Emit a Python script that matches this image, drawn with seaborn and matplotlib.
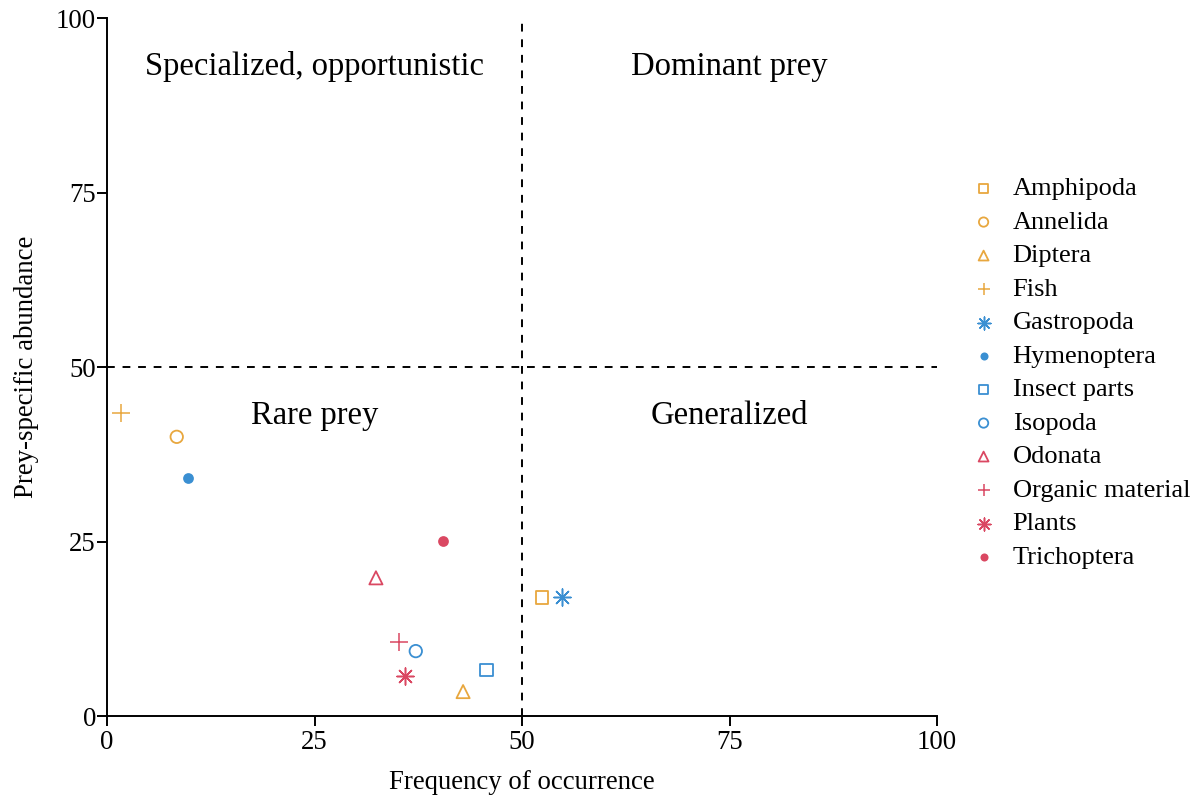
import matplotlib
matplotlib.use("Agg")
import matplotlib.pyplot as plt
import seaborn as sns
import pandas as pd

# Prey categories with frequency of occurrence (%) and prey-specific abundance (%)
prey = ["Amphipoda", "Annelida", "Diptera", "Fish", "Gastropoda", "Hymenoptera",
        "Insect parts", "Isopoda", "Odonata", "Organic material", "Plants", "Trichoptera"]
frequency = [52.4, 8.4, 42.9, 1.7, 54.8, 9.8, 45.7, 37.2, 32.4, 35.2, 35.9, 40.5]
abundance = [17.0, 40.0, 3.5, 43.4, 17.1, 34.1, 6.6, 9.3, 19.8, 10.6, 5.7, 25.1]

ORANGE = "#E8A73E"
BLUE = "#3A8FD2"
RED = "#DA4862"
colors = [ORANGE, ORANGE, ORANGE, ORANGE, BLUE, BLUE, BLUE, BLUE, RED, RED, RED, RED]
markers = ["s", "o", "^", "+", (8, 2, 0), "o", "s", "o", "^", "+", (8, 2, 0), "o"]
filled = [False, False, False, False, False, True, False, False, False, False, False, True]

df = pd.DataFrame({"prey": prey, "freq": frequency, "abund": abundance})

sns.set_theme(style="ticks")
plt.rcParams["font.family"] = ["Liberation Serif", "DejaVu Serif"]
plt.rcParams["text.color"] = "black"
plt.rcParams["axes.labelcolor"] = "black"

fig = plt.figure(figsize=(12.01, 7.97), dpi=100)
ax = fig.add_axes([0.0891, 0.1016, 0.6911, 0.8758])

for i, name in enumerate(prey):
    sub = df[df["prey"] == name]
    m = markers[i]
    c = colors[i]
    if filled[i]:
        sns.scatterplot(data=sub, x="freq", y="abund", ax=ax, marker=m, color=c,
                        s=60, linewidth=0, label=name, zorder=3)
    elif m == "+" or isinstance(m, tuple):
        sns.scatterplot(data=sub, x="freq", y="abund", ax=ax, marker=m, color=c,
                        s=150, linewidth=1.1, label=name, zorder=3)
    else:
        size = 90 if m == "^" else 80
        sns.scatterplot(data=sub, x="freq", y="abund", ax=ax, marker=m,
                        facecolors="none", edgecolors=c, s=size, linewidth=1.3,
                        label=name, zorder=3)

# Quadrant dividers
ax.axvline(50, color="black", linestyle=(0, (4, 4)), linewidth=1.4, zorder=1)
ax.axhline(50, color="black", linestyle=(0, (4, 4)), linewidth=1.4, zorder=1)

# Quadrant labels
qfs = 23.5
ax.text(25, 93, "Specialized, opportunistic", ha="center", va="center", fontsize=qfs)
ax.text(75, 93, "Dominant prey", ha="center", va="center", fontsize=qfs)
ax.text(25, 43, "Rare prey", ha="center", va="center", fontsize=qfs)
ax.text(75, 43, "Generalized", ha="center", va="center", fontsize=qfs)

ax.set_xlim(0, 100)
ax.set_ylim(0, 100)
ax.set_xticks([0, 25, 50, 75, 100])
ax.set_yticks([0, 25, 50, 75, 100])
ax.set_xlabel("Frequency of occurrence", fontsize=19.3, labelpad=11)
ax.set_ylabel("Prey-specific abundance", fontsize=19.3, labelpad=12)
ax.tick_params(axis="both", labelsize=19.3, length=7, width=1.4, color="black",
               labelcolor="black", direction="out")
ax.tick_params(axis="y", pad=1)
ax.tick_params(axis="x", pad=3)
for side in ["top", "right"]:
    ax.spines[side].set_visible(False)
for side in ["left", "bottom"]:
    ax.spines[side].set_color("black")
    ax.spines[side].set_linewidth(1.4)

handles, labels = ax.get_legend_handles_labels()
ax.legend(handles, labels, loc="center left", bbox_to_anchor=(0.797, 0.532),
          bbox_transform=fig.transFigure, frameon=False, fontsize=19,
          markerscale=0.75, handletextpad=0.5, labelspacing=0.38,
          borderaxespad=0, handlelength=1.2)

fig.savefig("out.png", dpi=100)
